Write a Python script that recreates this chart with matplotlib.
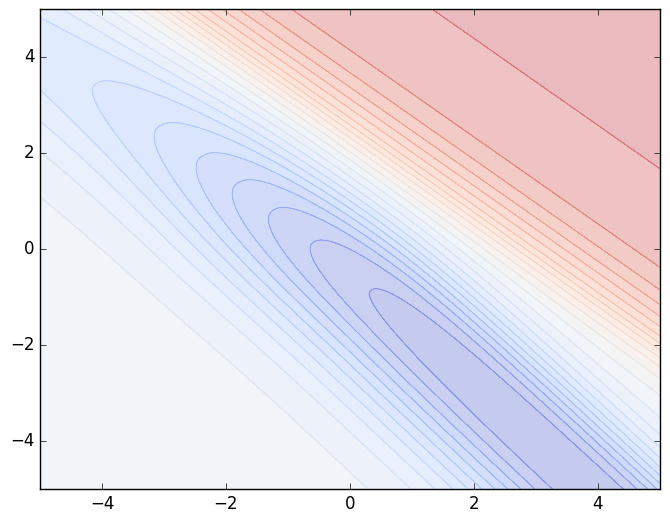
import numpy as np
import matplotlib
matplotlib.use("Agg")
import matplotlib.pyplot as plt

plt.style.use("classic")

# axis extents and ticks
x_limits = [-5, 5]
y_limits = [-5, 5]
x_ticks = [-4, -2, 0, 2, 4]
y_ticks = [-4, -2, 0, 2, 4]

# contour levels (level units: 25 bands)
levels = np.arange(-12, 14)

# field parameters (u = x + y, v = x - y)
base_value = -0.5
rise_height = 12.54
rise_slope_low = 2.2
rise_slope_high = 1.55
rise_center = 2.8
rise_center_shift = 0.05
dip_depth_base = 3.55
dip_depth_amp = 7.9
dip_depth_center = -3.2
dip_depth_width = 2.2
dip_axis = -0.45
dip_axis_bend_pos = 0.09
dip_axis_bend_neg = 0.08
dip_width_low = 1.55
dip_power_low = 2.0
dip_width_high = 1.3
dip_power_high = 2.4


def softplus(t):
    return np.log1p(np.exp(t))


def field(X, Y):
    u = X + Y
    v = X - Y
    s = u - (rise_center + rise_center_shift * v)
    k = np.where(s < 0, rise_slope_low, rise_slope_high)
    rise = rise_height / (1 + np.exp(-k * s))
    depth = dip_depth_base + dip_depth_amp / (1 + np.exp(-(v - dip_depth_center) / dip_depth_width))
    uc = dip_axis - dip_axis_bend_pos * softplus(v - 1) - dip_axis_bend_neg * softplus(-(v + 5))
    t = u - uc
    w = np.where(t < 0, dip_width_low, dip_width_high)
    p = np.where(t < 0, dip_power_low, dip_power_high)
    dip = depth * np.exp(-0.5 * (np.abs(t) / w) ** p)
    return base_value + rise - dip


x = np.linspace(x_limits[0], x_limits[1], 400)
y = np.linspace(y_limits[0], y_limits[1], 400)
X, Y = np.meshgrid(x, y)
Z = field(X, Y)

fig = plt.figure(figsize=(6.7, 5.23), dpi=100)
ax = fig.add_axes([0.0597, 0.065, 0.925, 0.918])
ax.contourf(X, Y, Z, levels=levels, cmap="coolwarm", alpha=0.3)
ax.contour(X, Y, Z, levels=levels, cmap="coolwarm", alpha=0.3, linewidths=0.8)
ax.set_xlim(x_limits)
ax.set_ylim(y_limits)
ax.set_xticks(x_ticks)
ax.set_yticks(y_ticks)
ax.tick_params(labelsize=12)

fig.savefig("out.png", dpi=100)
